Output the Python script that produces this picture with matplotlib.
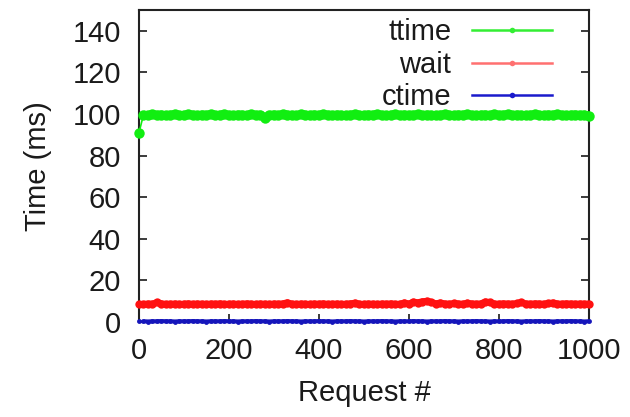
import matplotlib
matplotlib.use("Agg")
import matplotlib.pyplot as plt
from matplotlib.lines import Line2D

plt.rcParams['font.family'] = ['Liberation Sans', 'DejaVu Sans']

# Request index (sampled every 10 requests)
requests = list(range(0, 1001, 10))

# Total time per request (ms)
ttime = [91.0, 99.6, 99.4, 99.8, 99.5, 99.7, 99.3, 99.6, 99.9, 99.4,
         99.5, 99.8, 99.6, 99.3, 99.7, 99.5, 99.9, 99.4, 99.6, 99.8,
         99.5, 99.3, 99.7, 99.6, 99.4, 99.8, 99.5, 99.6, 98.3, 99.5,
         99.7, 99.4, 99.9, 99.6, 99.5, 99.3, 99.8, 99.6, 99.4, 99.7,
         99.5, 99.8, 99.6, 99.4, 99.7, 99.5, 99.3, 99.6, 99.8, 99.5,
         99.4, 99.7, 99.6, 99.9, 99.5, 99.3, 99.6, 99.8, 99.4, 99.7,
         99.5, 99.6, 99.8, 99.4, 99.7, 99.5, 99.3, 99.6, 99.9, 99.5,
         99.4, 99.7, 99.6, 99.8, 99.5, 99.3, 99.6, 99.7, 99.4, 99.8,
         99.5, 99.6, 99.9, 99.4, 99.7, 99.5, 99.3, 99.6, 99.8, 99.5,
         99.4, 99.7, 99.6, 99.8, 99.5, 99.4, 99.6, 99.7, 99.5, 99.6,
         99.2]

# Waiting time per request (ms)
wait = [8.6, 8.5, 8.7, 8.6, 9.4, 8.8, 8.5, 8.6, 8.7, 8.5,
        8.6, 8.8, 8.5, 8.7, 8.6, 8.5, 8.7, 8.6, 8.8, 8.5,
        8.6, 8.7, 8.5, 8.6, 8.8, 8.6, 8.5, 8.7, 8.6, 8.5,
        8.7, 8.6, 8.8, 9.3, 8.6, 8.5, 8.7, 8.6, 8.5, 8.7,
        8.6, 8.8, 8.5, 8.6, 8.7, 8.5, 8.6, 8.8, 9.1, 8.6,
        8.5, 8.7, 8.6, 8.5, 8.7, 8.6, 8.8, 8.5, 8.6, 9.2,
        8.7, 9.6, 9.3, 9.8, 10.0, 9.4, 8.8, 9.2, 8.7, 8.6,
        8.9, 8.7, 8.6, 9.1, 8.7, 8.6, 8.8, 9.7, 9.4, 8.7,
        8.6, 8.8, 8.7, 8.6, 8.9, 9.4, 8.7, 8.6, 8.8, 8.7,
        8.6, 8.9, 9.2, 8.7, 8.6, 8.8, 8.7, 8.6, 8.7, 8.6,
        8.7]

# Connection time per request (ms)
ctime = [0.3, 0.3, 0.2, 0.3, 0.3, 0.4, 0.3, 0.3, 0.2, 0.3,
         0.3, 0.3, 0.4, 0.3, 0.3, 0.2, 0.3, 0.3, 0.3, 0.4,
         0.3, 0.3, 0.2, 0.3, 0.3, 0.3, 0.4, 0.3, 0.3, 0.2,
         0.3, 0.3, 0.3, 0.4, 0.3, 0.3, 0.2, 0.3, 0.3, 0.3,
         0.4, 0.3, 0.3, 0.2, 0.3, 0.3, 0.3, 0.4, 0.3, 0.3,
         0.2, 0.3, 0.3, 0.3, 0.4, 0.3, 0.3, 0.2, 0.3, 0.3,
         0.3, 0.4, 0.3, 0.3, 0.2, 0.3, 0.3, 0.3, 0.4, 0.3,
         0.3, 0.2, 0.3, 0.3, 0.3, 0.4, 0.3, 0.3, 0.2, 0.3,
         0.3, 0.3, 0.4, 0.3, 0.3, 0.2, 0.3, 0.3, 0.3, 0.4,
         0.3, 0.3, 0.2, 0.3, 0.3, 0.3, 0.4, 0.3, 0.3, 0.2,
         0.3]

series_names = ["ttime", "wait", "ctime"]
colors = ["#11ee11", "#ff1111", "#1515bb"]
marker_sizes = [7.5, 6.0, 3.5]
band_widths = [6.0, 4.8, 3.0]
legend_colors = ["#33ee33", "#ff7070", "#1a1acc"]

xticks = [0, 200, 400, 600, 800, 1000]
yticks = [0, 20, 40, 60, 80, 100, 120, 140]

text_color = '#1a1a1a'

fig = plt.figure(figsize=(6.30, 4.17), dpi=100)
ax = fig.add_axes([0.2206, 0.228, 0.7143, 0.748])

for vals, c, ms, bw in zip([ttime, wait, ctime], colors, marker_sizes, band_widths):
    # thin connecting line with a point at every sample
    ax.plot(requests, vals, color=c, lw=1.2, marker='o', markersize=ms,
            markeredgewidth=0, clip_on=False, zorder=3)
    # dense run of samples after the first reads as a solid band
    ax.plot(requests[1:], vals[1:], color=c, lw=bw, solid_capstyle='butt',
            solid_joinstyle='round', clip_on=False, zorder=3)

ax.set_xlim(0, 1000)
ax.set_ylim(0, 150)
ax.set_xticks(xticks)
ax.set_yticks(yticks)
ax.tick_params(direction='in', length=6, width=1.2, labelsize=21,
               colors=text_color, right=True)
ax.tick_params(axis='x', pad=11)
ax.tick_params(axis='y', pad=13)
for s in ax.spines.values():
    s.set_linewidth(1.5)
    s.set_color('#222222')

ax.set_xlabel("Request #", fontsize=21, color=text_color, labelpad=10)
ax.set_ylabel("Time (ms)", fontsize=21, color=text_color, labelpad=15)

handles = [Line2D([], [], color=c, lw=1.8, marker='o', markersize=4,
                  markeredgewidth=0) for c in legend_colors]
ax.legend(handles, series_names, loc='upper right',
          bbox_to_anchor=(0.95, 1.02), frameon=False, markerfirst=False,
          fontsize=21, handlelength=2.75, handletextpad=0.7,
          labelspacing=0.15, borderpad=0, numpoints=1,
          labelcolor=text_color)

fig.savefig("out.png", dpi=100)
